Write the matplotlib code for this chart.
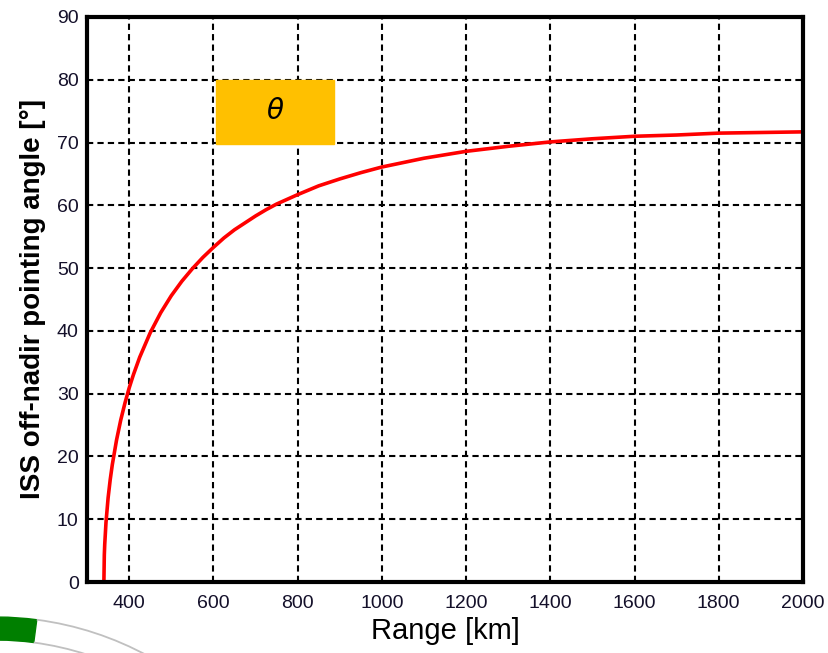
import matplotlib.pyplot as plt
from matplotlib.patches import Rectangle, Wedge, Arc

# slant range [km] vs off-nadir angle [deg]
range_km = [340, 341, 342, 345, 350, 355, 360, 370, 380, 390, 400, 410, 425, 450, 475,
            500, 525, 550, 575, 600, 625, 650, 675, 700, 725, 750, 800, 850, 900,
            950, 1000, 1100, 1200, 1300, 1400, 1500, 1600, 1700, 1800, 2000]
angle_deg = [0, 4.3, 6.0, 9.5, 13.4, 16.3, 18.7, 22.6, 25.8, 28.5, 30.9, 33.0, 35.8, 39.7, 42.9,
             45.6, 47.9, 49.9, 51.7, 53.3, 54.8, 56.1, 57.2, 58.3, 59.3, 60.2, 61.7, 63.1, 64.2,
             65.2, 66.1, 67.5, 68.6, 69.4, 70.1, 70.6, 71.0, 71.2, 71.5, 71.7]

x_ticks = [400, 600, 800, 1000, 1200, 1400, 1600, 1800, 2000]
y_ticks = [0, 10, 20, 30, 40, 50, 60, 70, 80, 90]

plt.rcParams['font.family'] = ['Liberation Sans', 'DejaVu Sans']

fig = plt.figure(figsize=(8.29, 6.53), dpi=100)
ax = fig.add_axes([0.105, 0.1087, 0.8636, 0.8653])

ax.plot(range_km, angle_deg, color='#ff0000', lw=2.6, zorder=4)

# theta label box
ax.add_patch(Rectangle((607, 69.8), 279, 10.2, color='#ffc000', zorder=3))
ax.text(746, 74.9, r'$\theta$', ha='center', va='center', fontsize=20, zorder=5)

ax.set_xlim(300, 2000)
ax.set_ylim(0, 90)
ax.set_xticks(x_ticks)
ax.set_yticks(y_ticks)
ax.tick_params(length=0, labelsize=14, labelcolor='#14102a')
ax.tick_params(axis='x', pad=9)
ax.tick_params(axis='y', pad=6)
ax.grid(True, color='black', lw=1.5, linestyle=(0, (3, 2)), zorder=1)
ax.set_axisbelow(True)
for s in ax.spines.values():
    s.set_linewidth(3)
    s.set_zorder(6)

ax.set_xlabel('Range [km]', fontsize=21, labelpad=4)
ax.set_ylabel('ISS off-nadir pointing angle [°]', fontsize=20, fontweight='bold', labelpad=8)

# leftover slide decoration in the bottom-left corner
tr = fig.dpi_scale_trans
fig.add_artist(Wedge((-0.05, -2.84), 3.20, 82.5, 110, width=0.23, color='#007f00', transform=tr))
fig.add_artist(Arc((-0.05, -2.84), 6.40, 6.40, theta1=40, theta2=82.5, color='#c0c0c0', lw=1.3, transform=tr))
fig.add_artist(Arc((-0.05, -2.84), 5.94, 5.94, theta1=40, theta2=82.5, color='#c0c0c0', lw=1.3, transform=tr))

fig.savefig('out.png', dpi=100)
